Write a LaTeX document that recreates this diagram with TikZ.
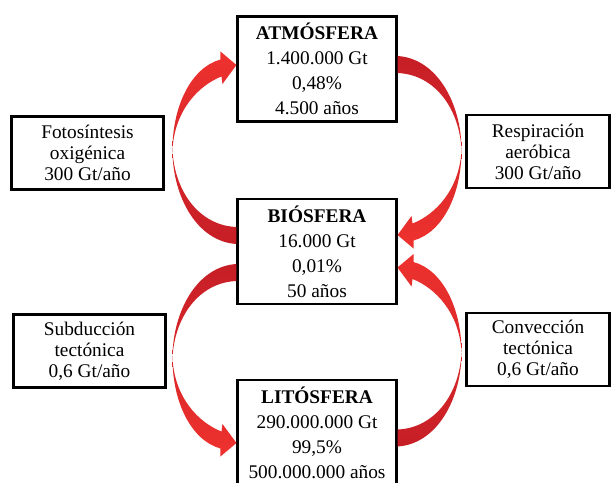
\documentclass[tikz,border=0pt]{standalone}
\usepackage{fontspec}
\setmainfont{Liberation Serif}
\usetikzlibrary{calc}
\definecolor{arrowdark}{RGB}{198,30,38}
\definecolor{arrowlight}{RGB}{238,50,46}
\tikzset{
    reservoir/.style={draw,line width=1.8pt,align=center,inner sep=0pt,
        minimum width=119pt,minimum height=79pt,font=\fontsize{14.5}{18.75}\selectfont},
    flux/.style={draw,line width=1.8pt,align=center,inner sep=0pt,
        minimum width=114pt,minimum height=55pt,font=\fontsize{14.5}{15.75}\selectfont},
    pics/crescent/.style 2 args={code={
        \shade[top color=#1,bottom color=#2]
            (0,8.5) .. controls (-40,6) and (-64,-40) .. (-64,-85.5)
            .. controls (-64,-130) and (-45,-168) .. (-16,-176)
            -- (-16,-184) -- (0,-170.5) -- (-14,-151.5) -- (-15,-159)
            .. controls (-38,-150) and (-62,-125) .. (-64,-85.5)
            .. controls (-62,-45) and (-38,-10) .. (0,-8.5) -- cycle;
    }}
}
\begin{document}
\begin{tikzpicture}[x=0.75pt,y=-0.75pt]
    \useasboundingbox (0,0) rectangle (613,482);

    % Reservoirs
    \node[reservoir] (atm) at (317,69) {\textbf{ATMÓSFERA}\\1.400.000 Gt\\0,48\%\\4.500 años};
    \node[reservoir] (bio) at (317,251.5) {\textbf{BIÓSFERA}\\16.000 Gt\\0,01\%\\50 años};
    \node[reservoir] (lit) at (317,432.5) {\textbf{LITÓSFERA}\\290.000.000 Gt\\99,5\%\\500.000.000 años};

    % Fluxes
    \node[flux] (foto) at (87.5,153) {Fotosíntesis\\oxigénica\\300 Gt/año};
    \node[flux,minimum width=107.5pt] (resp) at (538,151.5) {Respiración\\aeróbica\\300 Gt/año};
    \node[flux] (subd) at (89.5,351) {Subducción\\tectónica\\0,6 Gt/año};
    \node[flux,minimum width=107.5pt] (conv) at (538,349.5) {Convección\\tectónica\\0,6 Gt/año};

    % Curved arrows
    \pic at ($(bio.west)+(0,-16)$) {crescent={arrowlight}{arrowdark}};
    \pic[xscale=-1,yscale=-1] at ($(atm.east)+(0,-4.5)$) {crescent={arrowdark}{arrowlight}};
    \pic[yscale=-1] at ($(bio.west)+(0,21)$) {crescent={arrowdark}{arrowlight}};
    \pic[xscale=-1] at ($(lit.east)+(0,5.5)$) {crescent={arrowlight}{arrowdark}};
\end{tikzpicture}
\end{document}
